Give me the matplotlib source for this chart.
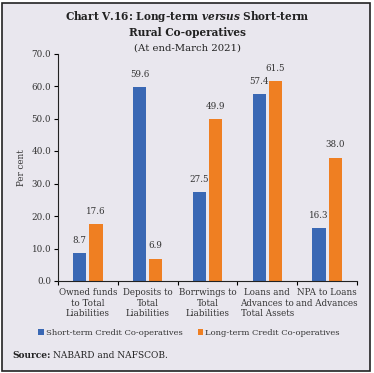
import numpy as np
import matplotlib
matplotlib.use('Agg')
import matplotlib.pyplot as plt
from matplotlib.patches import Rectangle

plt.rcParams['font.family'] = 'DejaVu Serif'
plt.rcParams['mathtext.fontset'] = 'dejavuserif'

categories = ['Owned funds\nto Total\nLiabilities', 'Deposits to\nTotal\nLiabilities',
              'Borrwings to\nTotal\nLiabilities', 'Loans and\nAdvances to\nTotal Assets',
              'NPA to Loans\nand Advances']
short_term = [8.7, 59.6, 27.5, 57.4, 16.3]
long_term = [17.6, 6.9, 49.9, 61.5, 38.0]

blue = '#3a68b4'
orange = '#ef7f22'
bg = '#e9e7ee'
txt = '#333333'

fig = plt.figure(figsize=(3.74, 3.73), dpi=100)
fig.patch.set_facecolor('white')
fig.patches.append(Rectangle((2 / 374, 2 / 373), 368 / 374, 368 / 373, transform=fig.transFigure,
                             facecolor=bg, edgecolor='#222222', linewidth=1.2, zorder=-1))

ax = fig.add_axes([58 / 374, 1 - 281 / 373, 299 / 374, 227.5 / 373])
ax.set_facecolor('none')

x = np.arange(len(categories))
w = 0.22
b1 = ax.bar(x - 0.135, short_term, w, color=blue, label='Short-term Credit Co-operatives')
b2 = ax.bar(x + 0.135, long_term, w, color=orange, label='Long-term Credit Co-operatives')

for bars, vals in [(b1, short_term), (b2, long_term)]:
    for r, v in zip(bars, vals):
        ax.text(r.get_x() + r.get_width() / 2, v + 2.5, f'{v:.1f}', ha='center', va='bottom',
                fontsize=6.3, color=txt)

ax.set_xlim(-0.5, 4.5)
ax.set_ylim(0, 70)
ax.set_yticks(np.arange(0, 71, 10))
ax.set_yticklabels([f'{v:.1f}' for v in np.arange(0, 71, 10)], fontsize=6.3, color=txt)
ax.set_xticks(x)
ax.set_xticklabels(categories, fontsize=6.3, color=txt, linespacing=1.25)
ax.set_xticks(np.arange(-0.5, 4.6, 1), minor=True)
ax.tick_params(axis='x', which='major', length=0, pad=5)
ax.tick_params(axis='x', which='minor', length=3, width=0.8)
ax.tick_params(axis='y', length=3, width=0.8, pad=2)
for s in ['top', 'right']:
    ax.spines[s].set_visible(False)
for s in ['left', 'bottom']:
    ax.spines[s].set_linewidth(0.8)
    ax.spines[s].set_color('#222222')
ax.set_ylabel('Per cent', fontsize=6.3, color=txt, labelpad=4)

ax.legend(loc='center', bbox_to_anchor=(189 / 374, 1 - 333 / 373), bbox_transform=fig.transFigure,
          ncol=2, frameon=False, fontsize=6.0, handlelength=0.7, handleheight=0.7,
          handletextpad=0.2, columnspacing=1.8, labelcolor=txt)

fig.text(0.5, 1 - 16 / 373, r'Chart V.16: Long-term $\mathbfit{versus}$ Short-term',
         ha='center', va='center', fontsize=7.6, fontweight='bold', color='#222222')
fig.text(0.5, 1 - 32 / 373, 'Rural Co-operatives', ha='center', va='center',
         fontsize=7.6, fontweight='bold', color='#222222')
fig.text(0.5, 1 - 48 / 373, '(At end-March 2021)', ha='center', va='center',
         fontsize=7.3, color='#222222')

src = fig.text(12 / 374, 1 - 356 / 373, 'Source:', ha='left', va='center', fontsize=6.5,
               fontweight='bold', color='#222222')
fig.canvas.draw()
bb = src.get_window_extent()
fig.text((bb.x1 + 3) / 374, 1 - 356 / 373, 'NABARD and NAFSCOB.', ha='left', va='center',
         fontsize=6.5, color='#222222')

fig.savefig('out.png', dpi=100)
